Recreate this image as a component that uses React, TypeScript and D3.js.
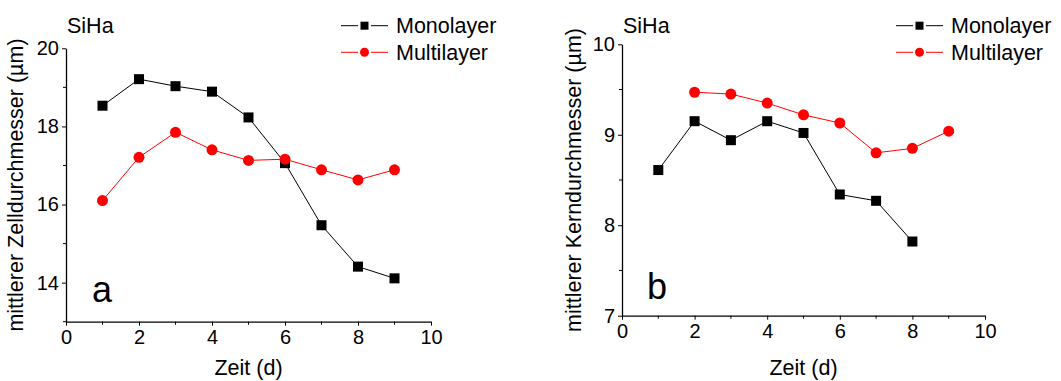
import * as d3 from "d3";
import { useRef, useEffect } from "react";

// days of measurement
const daysA = [1, 2, 3, 4, 5, 6, 7, 8, 9];
const monoCellA = [18.53, 19.21, 19.03, 18.89, 18.23, 17.06, 15.47, 14.41, 14.11];
const multiCellA = [16.1, 17.21, 17.85, 17.4, 17.13, 17.16, 16.89, 16.63, 16.89];

const daysMonoB = [1, 2, 3, 4, 5, 6, 7, 8];
const monoNucB = [8.61, 9.15, 8.94, 9.15, 9.02, 8.34, 8.27, 7.82];
const daysMultiB = [2, 3, 4, 5, 6, 7, 8, 9];
const multiNucB = [9.47, 9.45, 9.35, 9.22, 9.13, 8.8, 8.85, 9.04];

const xTicks = [0, 2, 4, 6, 8, 10];
const xMinor = [1, 3, 5, 7, 9];
const yTicksA = [14, 16, 18, 20];
const yMinorA = [13, 15, 17, 19];
const yTicksB = [7, 8, 9, 10];
const yMinorB = [7.5, 8.5, 9.5];

const FONT = "'Liberation Sans', Arial, sans-serif";

export default function App() {
  const svgRef = useRef(null);

  useEffect(() => {
    const svg = d3.select(svgRef.current);
    svg.selectAll("*").remove();

    // draws one panel of the figure
    function drawPanel(opts) {
      const x = d3.scaleLinear().domain([0, 10]).range([opts.left, opts.right]);
      const y = d3.scaleLinear().domain(opts.yDomain).range([opts.bottom, opts.top]);
      const g = svg.append("g");

      // x axis
      const xa = g.append("g").attr("transform", `translate(0,${opts.bottom})`)
        .call(d3.axisBottom(x).tickValues(xTicks).tickFormat(d3.format("d")).tickSize(4).tickSizeOuter(0).tickPadding(4));
      xa.selectAll("text").style("font-family", FONT).style("font-size", "20px").attr("fill", "#000");
      xa.select(".domain").attr("stroke-width", 1.3);
      xa.selectAll(".minor").data(xMinor).enter().append("line").attr("class", "minor")
        .attr("x1", d => x(d)).attr("x2", d => x(d)).attr("y1", 0).attr("y2", 3).attr("stroke", "#000");

      // y axis
      const ya = g.append("g").attr("transform", `translate(${opts.left},0)`)
        .call(d3.axisLeft(y).tickValues(opts.yTicks).tickFormat(d3.format("d")).tickSize(4).tickSizeOuter(0).tickPadding(3));
      ya.selectAll("text").style("font-family", FONT).style("font-size", "20px").attr("fill", "#000");
      ya.select(".domain").attr("stroke-width", 1.3);
      ya.selectAll(".minor").data(opts.yMinor).enter().append("line").attr("class", "minor")
        .attr("y1", d => y(d)).attr("y2", d => y(d)).attr("x1", 0).attr("x2", -3).attr("stroke", "#000");

      // axis titles
      g.append("text").attr("x", (opts.left + opts.right) / 2).attr("y", 375)
        .attr("text-anchor", "middle").style("font-family", FONT).style("font-size", "21.5px").text("Zeit (d)");
      g.append("text").attr("transform", `translate(${opts.yTitleX},${(opts.top + opts.bottom) / 2}) rotate(-90)`)
        .attr("text-anchor", "middle").style("font-family", FONT).style("font-size", "21.5px").text(opts.yTitle);

      g.append("text").attr("x", opts.left + 1).attr("y", 33)
        .style("font-family", FONT).style("font-size", "21.5px").text("SiHa");
      g.append("text").attr("x", opts.letterX).attr("y", opts.letterY)
        .style("font-family", FONT).style("font-size", "36px").text(opts.letter);

      const line = d3.line().x(d => x(d[0])).y(d => y(d[1]));

      // series
      opts.series.forEach(s => {
        const pts = s.xs.map((d, i) => [d, s.ys[i]]);
        g.append("path").datum(pts).attr("d", line).attr("fill", "none").attr("stroke", s.color).attr("stroke-width", 1);
        if (s.shape === "square") {
          g.selectAll(null).data(pts).enter().append("rect")
            .attr("x", d => x(d[0]) - 5).attr("y", d => y(d[1]) - 5).attr("width", 10).attr("height", 10).attr("fill", s.color);
        } else {
          g.selectAll(null).data(pts).enter().append("circle")
            .attr("cx", d => x(d[0])).attr("cy", d => y(d[1])).attr("r", 5.5).attr("fill", s.color);
        }
      });

      // legend
      opts.series.forEach((s, i) => {
        const ly = 25.7 + i * 26.6;
        const lx = opts.legendX;
        g.append("line").attr("x1", lx).attr("x2", lx + 17).attr("y1", ly).attr("y2", ly).attr("stroke", s.color);
        g.append("line").attr("x1", lx + 30).attr("x2", lx + 47).attr("y1", ly).attr("y2", ly).attr("stroke", s.color);
        if (s.shape === "square") {
          g.append("rect").attr("x", lx + 23.5 - 4).attr("y", ly - 4).attr("width", 8).attr("height", 8).attr("fill", s.color);
        } else {
          g.append("circle").attr("cx", lx + 23.5).attr("cy", ly).attr("r", 4.5).attr("fill", s.color);
        }
        g.append("text").attr("x", lx + 55).attr("y", ly + 7.5)
          .style("font-family", FONT).style("font-size", "21.5px").text(s.name);
      });
    }

    drawPanel({
      left: 66, right: 431, top: 48.3, bottom: 321.7,
      yDomain: [13, 20], yTicks: yTicksA, yMinor: yMinorA,
      yTitle: "mittlerer Zelldurchmesser (\u00b5m)", yTitleX: 23,
      letter: "a", letterX: 92, letterY: 302,
      legendX: 341,
      series: [
        { name: "Monolayer", xs: daysA, ys: monoCellA, color: "#000", shape: "square" },
        { name: "Multilayer", xs: daysA, ys: multiCellA, color: "#ff0000", shape: "circle" },
      ],
    });

    drawPanel({
      left: 622, right: 985, top: 44.3, bottom: 315.7,
      yDomain: [7, 10], yTicks: yTicksB, yMinor: yMinorB,
      yTitle: "mittlerer Kerndurchmesser (\u00b5m)", yTitleX: 581,
      letter: "b", letterX: 647, letterY: 299,
      legendX: 896,
      series: [
        { name: "Monolayer", xs: daysMonoB, ys: monoNucB, color: "#000", shape: "square" },
        { name: "Multilayer", xs: daysMultiB, ys: multiNucB, color: "#ff0000", shape: "circle" },
      ],
    });
  }, []);

  return (
    <svg ref={svgRef} width={1061} height={381}
      style={{ position: "absolute", left: 0, top: 0, background: "#fff" }} />
  );
}
